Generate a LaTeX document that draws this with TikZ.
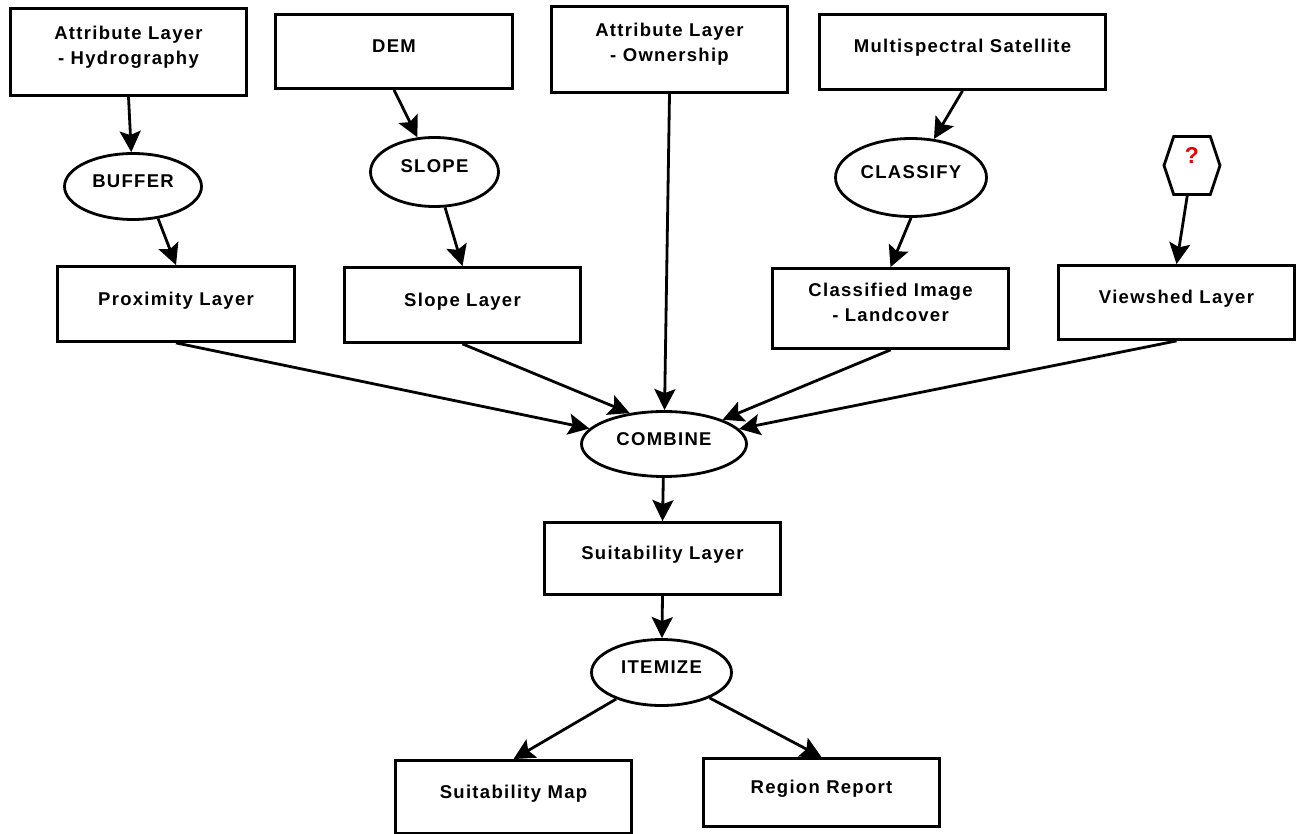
\documentclass[tikz,border=0pt]{standalone}
\usepackage{fontspec}
\usepackage{tikz}
\usetikzlibrary{
  arrows.meta,
  shapes.geometric,
  shapes.symbols
}
\newfontfamily\flowfont{Liberation Sans}[LetterSpace=7]
\definecolor{qred}{RGB}{240,0,0}
% text sits a little above the middle of each shape
\newcommand{\lbl}[2][4pt]{\raisebox{#1}[\height][\depth]{\begin{tabular}{@{}c@{}}#2\end{tabular}}}

\begin{document}
\begin{tikzpicture}[x=1pt, y=-1pt,
  layer/.style={draw, line width=2.8pt, minimum width=236pt, minimum height=75pt, inner sep=0pt, font=\flowfont\bfseries\fontsize{18.5}{25}\selectfont},
  op/.style={ellipse, draw, line width=2.8pt, inner sep=0pt, font=\flowfont\bfseries\fontsize{18.5}{25}\selectfont},
  flow/.style={-{Stealth[length=21pt, width=21pt, inset=4pt]}, line width=2.8pt}]
  \useasboundingbox (0,0) rectangle (1297,834);

  % inputs
  \node[layer, minimum height=87pt] (hydro) at (128.5,52) {\lbl[5pt]{Attribute Layer\\- Hydrography}};
  \node[layer, minimum width=237pt, minimum height=74pt] (dem) at (394,51.5) {\lbl{DEM}};
  \node[layer, minimum height=86pt] (own) at (669.5,49.5) {\lbl[5pt]{Attribute Layer\\- Ownership}};
  \node[layer, minimum width=286pt] (multi) at (962.5,52) {\lbl{Multispectral Satellite}};
  \node[signal, signal to=west and east, signal pointer angle=143, draw, line width=2.8pt, minimum width=56pt, minimum height=58pt, inner sep=0pt, text=qred, font=\flowfont\bfseries\fontsize{23}{25}\selectfont] (q) at (1192,165.5) {\lbl[7pt]{?}};

  % operations
  \node[op, minimum width=137pt, minimum height=66pt] (buffer) at (133,186.5) {\lbl{BUFFER}};
  \node[op, minimum width=128pt, minimum height=69pt] (slope) at (434.5,172) {\lbl{SLOPE}};
  \node[op, minimum width=151pt, minimum height=78pt] (classify) at (911,177.5) {\lbl{CLASSIFY}};

  % derived layers
  \node[layer, minimum width=237pt] (prox) at (176,304) {\lbl{Proximity Layer}};
  \node[layer] (slopel) at (462.5,305) {\lbl{Slope Layer}};
  \node[layer, minimum height=80pt] (classimg) at (890.5,308.5) {\lbl[5pt]{Classified Image\\- Landcover}};
  \node[layer, minimum height=74pt] (viewshed) at (1176.5,302.5) {\lbl{Viewshed Layer}};

  \node[op, minimum width=165pt, minimum height=65pt] (combine) at (664,444) {\lbl{COMBINE}};
  \node[layer, minimum height=72pt] (suit) at (662.5,558.5) {\lbl{Suitability Layer}};
  \node[op, minimum width=140pt, minimum height=66pt] (itemize) at (661.5,672.5) {\lbl{ITEMIZE}};
  \node[layer, minimum height=73pt] (suitmap) at (513.5,797) {\lbl{Suitability Map}};
  \node[layer, minimum height=68pt] (report) at (821.5,792.5) {\lbl{Region Report}};

  % connectors
  \draw[flow] (hydro.south) -- (buffer);
  \draw[flow] (buffer.-52) -- (prox.north);
  \draw[flow] (dem.south) -- (slope);
  \draw[flow] (slope) -- (slopel.north);
  \draw[flow] (multi.south) -- (classify);
  \draw[flow] (classify.south) -- (classimg.north);
  \draw[flow] (q) -- (viewshed.north);
  \draw[flow] (own.south) -- (combine);
  \draw[flow] (prox.south) -- (combine);
  \draw[flow] (slopel.south) -- (combine.138);
  \draw[flow] (classimg.south) -- (combine);
  \draw[flow] (viewshed.south) -- (combine);
  \draw[flow] (combine) -- (suit.north);
  \draw[flow] (suit.south) -- (itemize);
  \draw[flow] (itemize) -- (suitmap.north);
  \draw[flow] (itemize) -- (report.north);
\end{tikzpicture}
\end{document}
